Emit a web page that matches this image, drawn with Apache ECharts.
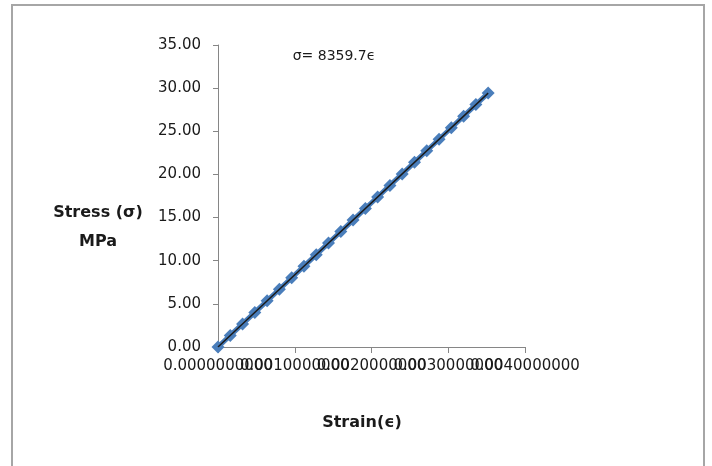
<!DOCTYPE html>
<html>
<head>
<meta charset="utf-8">
<script src="https://cdn.jsdelivr.net/npm/echarts@6/dist/echarts.min.js"></script>
<style>html,body{margin:0;padding:0;background:#fff}#c{width:712px;height:466px}</style>
</head>
<body>
<div id="c"></div>
<script>
const strain = [0, 0.00016, 0.00032, 0.00048, 0.00064, 0.00080, 0.00096, 0.00112, 0.00128, 0.00144, 0.00160, 0.00176, 0.00192, 0.00208, 0.00224, 0.00240, 0.00256, 0.00272, 0.00288, 0.00304, 0.00320, 0.00336, 0.00352];
const stress = [0, 1.34, 2.68, 4.01, 5.35, 6.69, 8.03, 9.36, 10.70, 12.04, 13.38, 14.71, 16.05, 17.39, 18.73, 20.06, 21.40, 22.74, 24.08, 25.41, 26.75, 28.09, 29.43];
const xMin = 0, xMax = 0.004, xStep = 0.001;
const trendSlope = 8359.7;
const equationText = 'σ= 8359.7ϵ';
const xTitle = 'Strain(ϵ)';
const yTitle = 'Stress (σ)\nMPa';

const pts = strain.map((s, i) => [s, stress[i]]);
const last = strain[strain.length - 1];
const trend = [[0, 0], [last, trendSlope * last]];

// main grid geometry
const G = {left: 218, top: 45, width: 307, height: 302};
const pxPerUnit = G.width / (xMax - xMin);
// second grid covering the odd ticks (same linear mapping)
const G2 = {left: G.left + xStep * pxPerUnit, top: G.top, width: 2 * xStep * pxPerUnit, height: G.height};

const chart = echarts.init(document.getElementById('c'), null, {renderer: 'canvas'});
const axisColor = '#868686';
const xLabel = {fontFamily: 'DejaVu Sans', fontSize: 15, color: '#1a1a1a', margin: 12,
  formatter: v => v.toFixed(10), showMinLabel: true, showMaxLabel: true};
chart.setOption({
  animation: false,
  backgroundColor: '#fff',
  grid: [
    Object.assign({containLabel: false}, G),
    Object.assign({containLabel: false, show: false}, G2)
  ],
  xAxis: [{
    gridIndex: 0, type: 'value', min: xMin, max: xMax, interval: 2 * xStep,
    axisLine: {lineStyle: {color: axisColor, width: 1}},
    axisTick: {show: true, length: 6, lineStyle: {color: axisColor}},
    splitLine: {show: false},
    axisLabel: xLabel
  }, {
    gridIndex: 1, type: 'value', min: xMin + xStep, max: xMax - xStep, interval: 2 * xStep,
    axisLine: {show: false},
    axisTick: {show: true, length: 6, lineStyle: {color: axisColor}},
    splitLine: {show: false},
    axisLabel: xLabel
  }],
  yAxis: [{
    gridIndex: 0, type: 'value', min: 0, max: 35, interval: 5,
    axisLine: {show: true, lineStyle: {color: axisColor, width: 1}},
    axisTick: {show: true, length: 5, lineStyle: {color: axisColor}},
    splitLine: {show: false},
    axisLabel: {fontFamily: 'DejaVu Sans', fontSize: 15, color: '#1a1a1a', margin: 17,
      formatter: v => v.toFixed(2)}
  }, {
    gridIndex: 1, type: 'value', min: 0, max: 35, show: false
  }],
  graphic: [
    {type: 'rect', shape: {x: 12, y: 5, width: 692, height: 480}, style: {fill: 'none', stroke: '#a6a6a6', lineWidth: 2}, z: -1},
    {type: 'text', style: {text: yTitle, x: 98, y: 227, align: 'center', verticalAlign: 'middle',
      font: 'bold 16px "DejaVu Sans"', fill: '#1a1a1a', lineHeight: 29}},
    {type: 'text', style: {text: xTitle, x: 362, y: 423, align: 'center', verticalAlign: 'middle',
      font: 'bold 16px "DejaVu Sans"', fill: '#1a1a1a'}},
    {type: 'text', style: {text: equationText, x: 334, y: 56, align: 'center', verticalAlign: 'middle',
      font: '14px "DejaVu Sans"', fill: '#1a1a1a'}}
  ],
  series: [
    {type: 'line', xAxisIndex: 0, yAxisIndex: 0, data: pts, showSymbol: true, symbol: 'diamond', symbolSize: 13,
      lineStyle: {color: '#4a7ebb', width: 5}, itemStyle: {color: '#4a7ebb'}, z: 2},
    {type: 'line', xAxisIndex: 0, yAxisIndex: 0, data: trend, showSymbol: false, lineStyle: {color: '#1a1a1a', width: 1.5}, z: 3}
  ]
});
</script>
</body>
</html>
